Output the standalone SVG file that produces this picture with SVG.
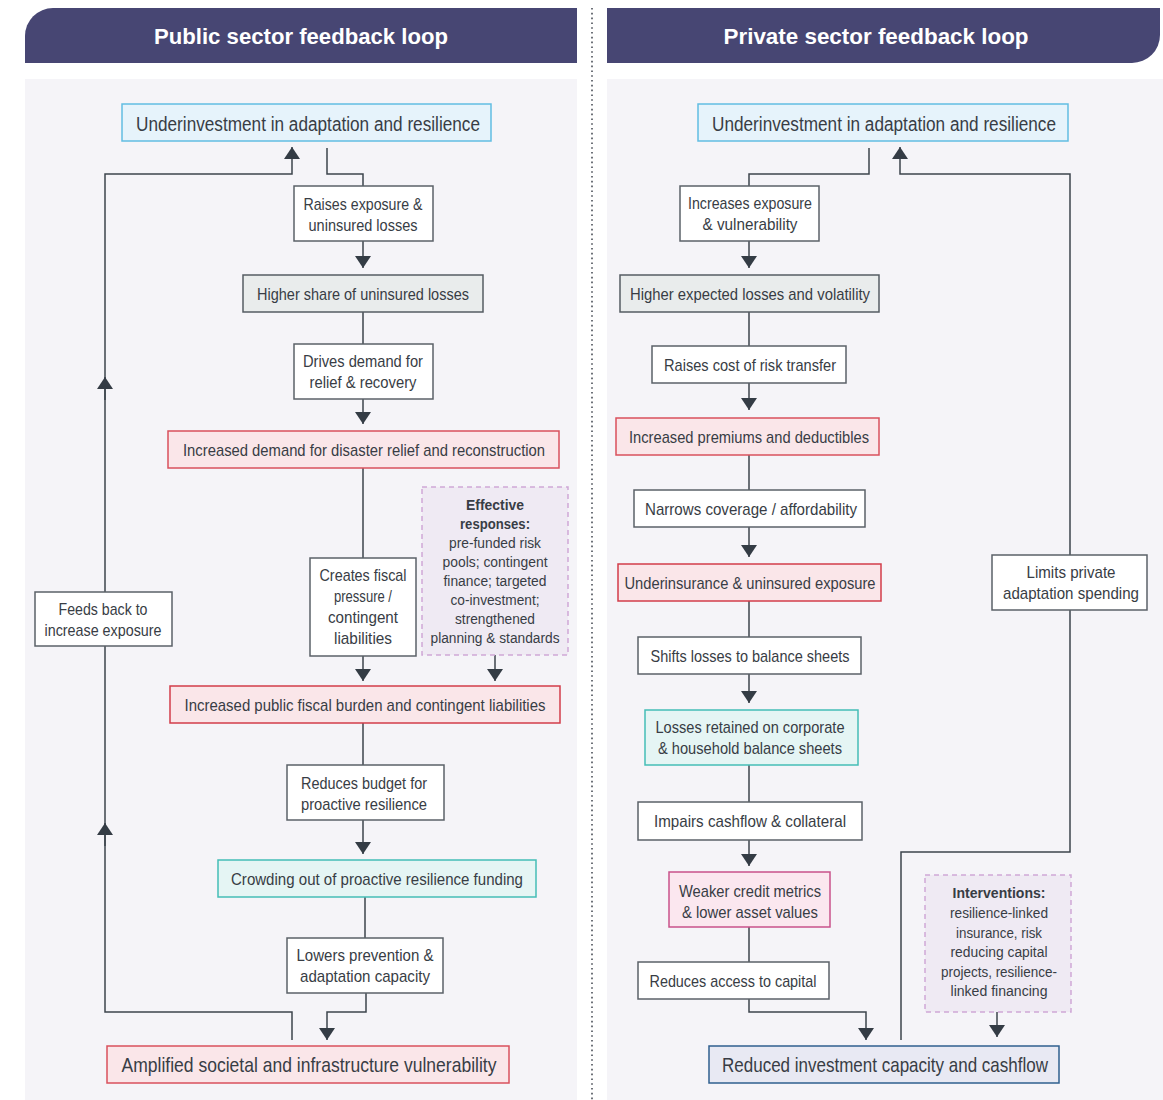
<svg xmlns="http://www.w3.org/2000/svg" width="1163" height="1100" viewBox="0 0 1163 1100">
<style>
text{font-family:"Liberation Sans Narrow","Liberation Sans",Arial,sans-serif;fill:#383d45}
.hd{font-family:"Liberation Sans",Arial,sans-serif;font-weight:bold;font-size:22px;fill:#ffffff}
.t{font-size:17px;text-anchor:middle}
.s{font-size:15.5px;text-anchor:middle}
.tl{font-size:20px;text-anchor:middle}
.tx{font-size:21px;text-anchor:middle}
.b{font-weight:bold}
.w{fill:#ffffff;stroke:#5b6168;stroke-width:1.5}
.g{fill:#e9ecec;stroke:#555c63;stroke-width:1.5}
.p{fill:#fae6e9;stroke:#d9505c;stroke-width:1.5}
.bl{fill:#e6f3fb;stroke:#62bde2;stroke-width:1.5}
.tq{fill:#e5f5f4;stroke:#44bdb6;stroke-width:1.5}
.mg{fill:#fbe7ef;stroke:#c9528b;stroke-width:1.5}
.nv{fill:#e8e9f3;stroke:#2f5f8e;stroke-width:1.5}
.d{fill:#efeaf3;stroke:#cfa8d6;stroke-width:1.5;stroke-dasharray:5,4}
.c path{fill:none;stroke:#3d444c;stroke-width:1.5}
</style>
<defs>
<marker id="ah" viewBox="0 0 12 16" refX="12" refY="8" markerWidth="12" markerHeight="16" markerUnits="userSpaceOnUse" orient="auto">
<path d="M0,0 L12,8 L0,16 Z" fill="#343c45"/>
</marker>
</defs>
<rect width="1163" height="1100" fill="#ffffff"/>
<rect x="25" y="79" width="552" height="1021" fill="#f5f4f8"/>
<rect x="607" y="79" width="556" height="1021" fill="#f5f4f8"/>
<line x1="592" y1="8" x2="592" y2="1100" stroke="#4a4f58" stroke-width="1.6" stroke-dasharray="1.6,3.2"/>
<g id="header-public">
<path d="M25,63 V36 A28,28 0 0 1 53,8 H577 V63 Z" fill="#474673"/>
<text class="hd" x="301" y="44" text-anchor="middle" textLength="294" lengthAdjust="spacingAndGlyphs">Public sector feedback loop</text>
</g>
<g id="header-private">
<path d="M607,8 H1160 V35 A28,28 0 0 1 1132,63 H607 Z" fill="#474673"/>
<text class="hd" x="876" y="44" text-anchor="middle" textLength="305" lengthAdjust="spacingAndGlyphs">Private sector feedback loop</text>
</g>

<g class="c" id="connectors">
<path d="M327,148 V174 H363 V186"/>
<path d="M292,1040 V1012 H105 V174 H292 V147" marker-end="url(#ah)"/>
<path d="M105,400 V377" marker-end="url(#ah)"/>
<path d="M105,846 V823" marker-end="url(#ah)"/>
<path d="M363,241 V268" marker-end="url(#ah)"/>
<path d="M363,312 V344"/>
<path d="M363,399 V424" marker-end="url(#ah)"/>
<path d="M363,468 V558"/>
<path d="M363,656 V681" marker-end="url(#ah)"/>
<path d="M495,655 V681" marker-end="url(#ah)"/>
<path d="M363,723 V765"/>
<path d="M363,820 V854" marker-end="url(#ah)"/>
<path d="M365,897 V938"/>
<path d="M366,993 V1012 H327 V1040" marker-end="url(#ah)"/>
<path d="M869,148 V174 H749 V186"/>
<path d="M901,1040 V852 H1070 V174 H900 V147" marker-end="url(#ah)"/>
<path d="M749,241 V268" marker-end="url(#ah)"/>
<path d="M749,312 V346"/>
<path d="M749,383 V410" marker-end="url(#ah)"/>
<path d="M749,455 V490"/>
<path d="M749,527 V557" marker-end="url(#ah)"/>
<path d="M749,601 V637"/>
<path d="M749,674 V703" marker-end="url(#ah)"/>
<path d="M749,765 V802"/>
<path d="M749,840 V866" marker-end="url(#ah)"/>
<path d="M749,927 V962"/>
<path d="M749,999 V1012 H866 V1040" marker-end="url(#ah)"/>
<path d="M997,1012 V1037" marker-end="url(#ah)"/>
</g>

<g id="l-under"><rect class="bl" x="122" y="104" width="369" height="37"/><text class="tl" x="308" y="130.5" textLength="344" lengthAdjust="spacingAndGlyphs">Underinvestment in adaptation and resilience</text></g>
<g id="l-raises"><rect class="w" x="294" y="186" width="139" height="55"/><text class="t" x="363" y="209.5" textLength="119" lengthAdjust="spacingAndGlyphs">Raises exposure &amp;</text><text class="t" x="363" y="231" textLength="109" lengthAdjust="spacingAndGlyphs">uninsured losses</text></g>
<g id="l-higher"><rect class="g" x="243" y="275" width="240" height="37"/><text class="t" x="363" y="299.5" textLength="212" lengthAdjust="spacingAndGlyphs">Higher share of uninsured losses</text></g>
<g id="l-drives"><rect class="w" x="294" y="344" width="139" height="55"/><text class="t" x="363" y="366.5" textLength="120" lengthAdjust="spacingAndGlyphs">Drives demand for</text><text class="t" x="363" y="388" textLength="107" lengthAdjust="spacingAndGlyphs">relief &amp; recovery</text></g>
<g id="l-demand"><rect class="p" x="168" y="431" width="391" height="37"/><text class="t" x="364" y="455.5" textLength="362" lengthAdjust="spacingAndGlyphs">Increased demand for disaster relief and reconstruction</text></g>
<g id="l-creates"><rect class="w" x="310" y="558" width="106" height="98"/><text class="t" x="363" y="580.5" textLength="87" lengthAdjust="spacingAndGlyphs">Creates fiscal</text><text class="t" x="363" y="601.5" textLength="58" lengthAdjust="spacingAndGlyphs">pressure /</text><text class="t" x="363" y="622.5" textLength="70" lengthAdjust="spacingAndGlyphs">contingent</text><text class="t" x="363" y="643.5" textLength="58" lengthAdjust="spacingAndGlyphs">liabilities</text></g>
<g id="l-effective"><rect class="d" x="422" y="487" width="146" height="168"/>
<text class="s b" x="495" y="510" textLength="58" lengthAdjust="spacingAndGlyphs">Effective</text>
<text class="s b" x="495" y="529" textLength="70" lengthAdjust="spacingAndGlyphs">responses:</text>
<text class="s" x="495" y="548" textLength="92" lengthAdjust="spacingAndGlyphs">pre-funded risk</text>
<text class="s" x="495" y="567" textLength="105" lengthAdjust="spacingAndGlyphs">pools; contingent</text>
<text class="s" x="495" y="586" textLength="103" lengthAdjust="spacingAndGlyphs">finance; targeted</text>
<text class="s" x="495" y="605" textLength="89" lengthAdjust="spacingAndGlyphs">co-investment;</text>
<text class="s" x="495" y="624" textLength="80" lengthAdjust="spacingAndGlyphs">strengthened</text>
<text class="s" x="495" y="643" textLength="129" lengthAdjust="spacingAndGlyphs">planning &amp; standards</text></g>
<g id="l-fiscal"><rect class="p" x="170" y="686" width="390" height="37" style="stroke:#d23d4a"/><text class="t" x="365" y="710.5" textLength="361" lengthAdjust="spacingAndGlyphs">Increased public fiscal burden and contingent liabilities</text></g>
<g id="l-reduces"><rect class="w" x="287" y="765" width="157" height="55"/><text class="t" x="364" y="788.5" textLength="126" lengthAdjust="spacingAndGlyphs">Reduces budget for</text><text class="t" x="364" y="810" textLength="126" lengthAdjust="spacingAndGlyphs">proactive resilience</text></g>
<g id="l-crowding"><rect class="tq" x="218" y="860" width="318" height="37"/><text class="t" x="377" y="884.5" textLength="292" lengthAdjust="spacingAndGlyphs">Crowding out of proactive resilience funding</text></g>
<g id="l-lowers"><rect class="w" x="287" y="938" width="156" height="55"/><text class="t" x="365" y="960.5" textLength="137" lengthAdjust="spacingAndGlyphs">Lowers prevention &amp;</text><text class="t" x="365" y="981.5" textLength="130" lengthAdjust="spacingAndGlyphs">adaptation capacity</text></g>
<g id="l-feeds"><rect class="w" x="35" y="592" width="137" height="54"/><text class="t" x="103" y="614.5" textLength="89" lengthAdjust="spacingAndGlyphs">Feeds back to</text><text class="t" x="103" y="636" textLength="117" lengthAdjust="spacingAndGlyphs">increase exposure</text></g>
<g id="l-amplified"><rect class="p" x="107" y="1046" width="402" height="37"/><text class="tx" x="309" y="1072" textLength="375" lengthAdjust="spacingAndGlyphs">Amplified societal and infrastructure vulnerability</text></g>

<g id="r-under"><rect class="bl" x="698" y="104" width="370" height="37"/><text class="tl" x="884" y="130.5" textLength="344" lengthAdjust="spacingAndGlyphs">Underinvestment in adaptation and resilience</text></g>
<g id="r-increases"><rect class="w" x="680" y="186" width="139" height="55"/><text class="t" x="750" y="208.5" textLength="124" lengthAdjust="spacingAndGlyphs">Increases exposure</text><text class="t" x="750" y="229.5" textLength="95" lengthAdjust="spacingAndGlyphs">&amp; vulnerability</text></g>
<g id="r-higher"><rect class="g" x="620" y="275" width="259" height="37"/><text class="t" x="750" y="299.5" textLength="240" lengthAdjust="spacingAndGlyphs">Higher expected losses and volatility</text></g>
<g id="r-raises"><rect class="w" x="652" y="346" width="194" height="37"/><text class="t" x="750" y="370.5" textLength="172" lengthAdjust="spacingAndGlyphs">Raises cost of risk transfer</text></g>
<g id="r-premiums"><rect class="p" x="616" y="418" width="263" height="37"/><text class="t" x="749" y="442.5" textLength="240" lengthAdjust="spacingAndGlyphs">Increased premiums and deductibles</text></g>
<g id="r-narrows"><rect class="w" x="634" y="490" width="231" height="37"/><text class="t" x="751" y="514.5" textLength="212" lengthAdjust="spacingAndGlyphs">Narrows coverage / affordability</text></g>
<g id="r-underins"><rect class="p" x="618" y="564" width="263" height="37" style="stroke:#d23d4a"/><text class="t" x="750" y="588.5" textLength="251" lengthAdjust="spacingAndGlyphs">Underinsurance &amp; uninsured exposure</text></g>
<g id="r-shifts"><rect class="w" x="638" y="637" width="223" height="37"/><text class="t" x="750" y="661.5" textLength="199" lengthAdjust="spacingAndGlyphs">Shifts losses to balance sheets</text></g>
<g id="r-retained"><rect class="tq" x="645" y="710" width="213" height="55"/><text class="t" x="750" y="732.5" textLength="189" lengthAdjust="spacingAndGlyphs">Losses retained on corporate</text><text class="t" x="750" y="753.5" textLength="184" lengthAdjust="spacingAndGlyphs">&amp; household balance sheets</text></g>
<g id="r-impairs"><rect class="w" x="638" y="802" width="224" height="38"/><text class="t" x="750" y="826.5" textLength="192" lengthAdjust="spacingAndGlyphs">Impairs cashflow &amp; collateral</text></g>
<g id="r-weaker"><rect class="mg" x="669" y="872" width="161" height="55"/><text class="t" x="750" y="896.5" textLength="142" lengthAdjust="spacingAndGlyphs">Weaker credit metrics</text><text class="t" x="750" y="917.5" textLength="136" lengthAdjust="spacingAndGlyphs">&amp; lower asset values</text></g>
<g id="r-access"><rect class="w" x="638" y="962" width="191" height="37"/><text class="t" x="733" y="986.5" textLength="167" lengthAdjust="spacingAndGlyphs">Reduces access to capital</text></g>
<g id="r-limits"><rect class="w" x="992" y="555" width="155" height="55"/><text class="t" x="1071" y="577.5" textLength="89" lengthAdjust="spacingAndGlyphs">Limits private</text><text class="t" x="1071" y="598.5" textLength="136" lengthAdjust="spacingAndGlyphs">adaptation spending</text></g>
<g id="r-interventions"><rect class="d" x="925" y="875" width="146" height="137"/>
<text class="s b" x="999" y="898" textLength="93" lengthAdjust="spacingAndGlyphs">Interventions:</text>
<text class="s" x="999" y="918" textLength="98" lengthAdjust="spacingAndGlyphs">resilience-linked</text>
<text class="s" x="999" y="938" textLength="86" lengthAdjust="spacingAndGlyphs">insurance, risk</text>
<text class="s" x="999" y="957" textLength="97" lengthAdjust="spacingAndGlyphs">reducing capital</text>
<text class="s" x="999" y="977" textLength="116" lengthAdjust="spacingAndGlyphs">projects, resilience-</text>
<text class="s" x="999" y="996" textLength="97" lengthAdjust="spacingAndGlyphs">linked financing</text></g>
<g id="r-reduced"><rect class="nv" x="709" y="1046" width="350" height="37"/><text class="tx" x="885" y="1072" textLength="326" lengthAdjust="spacingAndGlyphs">Reduced investment capacity and cashflow</text></g>
</svg>
